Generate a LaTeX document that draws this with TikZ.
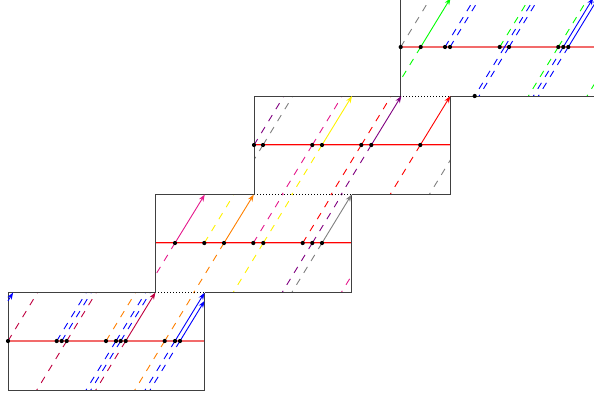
\documentclass[tikz,border=0pt]{standalone}
\usetikzlibrary{arrows.meta}
\definecolor{crim}{rgb}{0.75,0,0.25}
\definecolor{hotpink}{rgb}{0.9,0.1,0.55}
\definecolor{vio}{rgb}{0.5,0,0.5}
\definecolor{salmon}{rgb}{0.95,0.42,0.42}
\tikzset{
 wl/.style={line width=0.9pt, dash pattern=on 7pt off 7pt},
 ar/.style={line width=0.9pt, -{Stealth[length=7pt,width=5pt]}},
 boxedge/.style={draw=black!75, line width=1pt},
 dotedge/.style={draw=black, line width=0.8pt, dash pattern=on 0.8pt off 2.2pt},
 ev/.style={circle, fill=black, inner sep=0pt, minimum size=4.2pt},
}
\begin{document}
\begin{tikzpicture}[x=1pt,y=-1pt]
\useasboundingbox (0,0) rectangle (594,397);
\clip (0,0) rectangle (594,397);

% ---------- red lines (time slices) ----------
\fill[salmon] (8,340) rectangle (204.5,342);
\fill[red!30] (155,242) rectangle (351.5,244);
\fill[red] (155,242) rectangle (351.5,243.1);
\fill[red!30] (254,144) rectangle (450.5,146);
\fill[red] (254,144) rectangle (450.5,145.1);
\fill[salmon] (400,46) rectangle (596.5,48);

% ---------- dashed lines ----------
\begin{scope}
\clip (8,292.5) rectangle (204.5,390);
\foreach \x/\cl in {8/crim,56.7/blue,61.7/blue,66.7/crim,106/orange,116/blue,120.7/blue,164.7/orange}
  \draw[wl,color=\cl] (\x,341) -- ++(61,-100);
\foreach \x/\cl in {66.7/crim,116/blue,120.7/blue,125.7/crim,164.7/orange,175/blue,180/blue}
  \draw[wl,color=\cl] (\x,341) -- ++(-61,100);
\end{scope}
\begin{scope}
\clip (155,194.5) rectangle (351.5,292.5);
\foreach \x/\cl in {204.3/yellow,253.3/hotpink,263.3/yellow,302.7/red,312.3/vio,371.5/hotpink}
  \draw[wl,color=\cl] (\x,243) -- ++(61,-100);
\foreach \x/\cl in {175/hotpink,224/orange,263.3/yellow,312.3/vio,322/gray,371.5/hotpink}
  \draw[wl,color=\cl] (\x,243) -- ++(-61,100);
\end{scope}
\begin{scope}
\clip (254,96) rectangle (450.5,194.5);
\foreach \x/\cl in {254/vio,263/gray,312.3/hotpink,361.3/red}
  \draw[wl,color=\cl] (\x,145) -- ++(61,-100);
\foreach \x/\cl in {263/gray,312.3/hotpink,322/yellow,361.3/red,371.3/vio,420.3/red,459.5/gray}
  \draw[wl,color=\cl] (\x,145) -- ++(-61,100);
\end{scope}
\begin{scope}
\clip (400,-2) rectangle (596.5,96);
\foreach \x/\cl in {400.7/gray,445/blue,450/blue,499.7/green,504.6/blue,509/blue,558.3/green}
  \draw[wl,color=\cl] (\x,47) -- ++(61,-100);
\foreach \x/\cl in {420.7/green,504.6/blue,509/blue,558.3/green,563.3/blue,568.3/blue,617/green}
  \draw[wl,color=\cl] (\x,47) -- ++(-61,100);
\end{scope}

% ---------- box edges ----------
\draw[boxedge] (155,292.5) -- (8,292.5) -- (8,390) -- (204.5,390) -- (204.5,292.5);
\draw[dotedge] (155,292.5) -- (204.5,292.5);
\draw[boxedge] (204.5,292.5) -- (351.5,292.5) -- (351.5,194.5);
\draw[boxedge] (155,292.5) -- (155,194.5) -- (254,194.5);
\draw[dotedge] (254,194.5) -- (351.5,194.5);
\draw[boxedge] (351.5,194.5) -- (450.5,194.5) -- (450.5,96);
\draw[boxedge] (254,194.5) -- (254,96) -- (400,96);
\draw[dotedge] (400,96) -- (450.5,96);
\draw[boxedge] (450.5,96) -- (596.5,96);
\draw[boxedge] (400,96) -- (400,-2) -- (596.5,-2);

% ---------- solid arrows ----------
\draw[ar,crim] (125.7,341) -- ++(29.7,-48.5);
\draw[ar,blue] (175,341) -- ++(29.5,-48.2);
\draw[ar,blue] (180,341) -- (204.5,300.9);
\draw[ar,blue] (8,300.9) -- (13.1,292.5);
\draw[ar,hotpink] (175,243) -- ++(29.8,-48.5);
\draw[ar,orange] (224,243) -- ++(29.8,-48.5);
\draw[ar,gray] (322,243) -- ++(29.5,-48.3);
\draw[ar,yellow] (322,145) -- ++(30,-49);
\draw[ar,vio] (371.3,145) -- ++(30,-49);
\draw[ar,red] (420.3,145) -- ++(30,-49);
\draw[ar,green] (420.7,47) -- ++(29.9,-49);
\draw[ar,blue] (563.3,47) -- ++(29.9,-49);
\draw[ar,blue] (568.3,47) -- ++(29.9,-49);

% ---------- events ----------
\foreach \x [count=\i] in {8,56.7,61.7,66.7,106,116,120.7,125.7,164.7,175,180}
  \node[ev] (a\i) at (\x,341) {};
\foreach \x [count=\i] in {175,204.3,224,253.3,263.3,302.7,312.3,322}
  \node[ev] (b\i) at (\x,243) {};
\foreach \x [count=\i] in {254,263,312.3,322,361.3,371.3,420.3}
  \node[ev] (c\i) at (\x,145) {};
\foreach \x [count=\i] in {400.7,420.7,445,450,499.7,509,558.3,563.3,568.3}
  \node[ev] (d\i) at (\x,47) {};
\node[ev] (d0) at (474.7,96) {};
\end{tikzpicture}
\end{document}
